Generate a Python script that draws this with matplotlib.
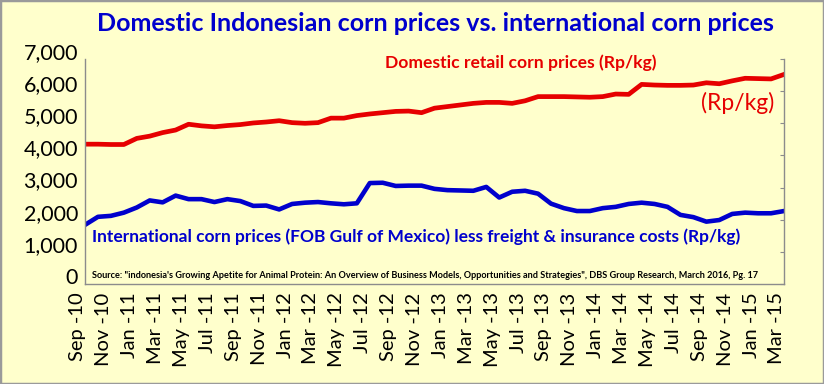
import numpy as np
import pandas as pd
import matplotlib
matplotlib.use("Agg")
import matplotlib.pyplot as plt
from matplotlib.transforms import ScaledTranslation
from matplotlib.patches import Rectangle

plt.rcParams['font.family'] = ['Lato', 'DejaVu Sans']

# monthly, Sep-10 .. Mar-15
months = pd.date_range('2010-09-01', periods=55, freq='MS')

domestic = [4350, 4350, 4340, 4340, 4530, 4600, 4710, 4790, 4970, 4920,
            4890, 4930, 4960, 5010, 5040, 5080, 5020, 5000, 5020, 5160,
            5160, 5240, 5290, 5330, 5370, 5380, 5330, 5470, 5520, 5570,
            5620, 5650, 5650, 5620, 5700, 5830, 5830, 5830, 5820, 5810,
            5830, 5910, 5900, 6210, 6190, 6180, 6180, 6190, 6260, 6230,
            6320, 6400, 6390, 6380, 6520]

international = [1840, 2090, 2120, 2220, 2380, 2600, 2540, 2750, 2640, 2640,
                 2550, 2640, 2580, 2430, 2440, 2320, 2490, 2530, 2550, 2510,
                 2480, 2510, 3140, 3150, 3050, 3060, 3060, 2960, 2920, 2910,
                 2900, 3020, 2690, 2870, 2900, 2810, 2500, 2360, 2270, 2270,
                 2360, 2400, 2490, 2530, 2490, 2400, 2150, 2080, 1940, 1990,
                 2180, 2220, 2200, 2200, 2270]

y_ticks = [0, 1000, 2000, 3000, 4000, 5000, 6000, 7000]
y_labels = ['0', '1,000', '2,000', '3,000', '4,000', '5,000', '6,000', '7,000']
x_labels = [f"{d:%b} -{d:%y}" for d in months]

title = 'Domestic Indonesian corn prices vs. international corn prices'
red_label = 'Domestic retail corn prices (Rp/kg)'
blue_label = 'International corn prices (FOB Gulf of Mexico) less freight & insurance costs (Rp/kg)'
source = ('Source: "indonesia\'s Growing Apetite for Animal Protein: An Overview of Business Models, '
          'Opportunities and Strategies", DBS Group Research, March 2016, Pg. 17')

bg = '#FFFFCC'
red = '#E60000'
blue = '#0000CC'
grey = '#8C8C8C'

fig = plt.figure(figsize=(8.24, 3.84), dpi=100, facecolor=bg)
ax = fig.add_axes([85 / 824, 1 - 284 / 384, 699 / 824, 225 / 384], facecolor=bg)

x = np.arange(len(months))
ax.plot(x, domestic, color=red, lw=3.4, solid_joinstyle='round')
ax.plot(x, international, color=blue, lw=3.3, solid_joinstyle='round')

ax.set_xlim(0, len(months) - 1)
ax.set_ylim(0, 7000)

ax.set_yticks(y_ticks)
ax.set_yticklabels(y_labels, fontsize=15.5)
ax.set_xticks(x[::2])
ax.set_xticklabels(x_labels[::2], rotation=90, fontsize=14.5)
ax.tick_params(axis='y', length=0, pad=5)
ax.tick_params(axis='x', length=0, pad=6)

# text layer sits slightly up/left of the graphics in the original
for lab in ax.get_yticklabels():
    lab.set_transform(lab.get_transform() + ScaledTranslation(0, 0.08, fig.dpi_scale_trans))
for lab in ax.get_xticklabels():
    lab.set_transform(lab.get_transform() + ScaledTranslation(-0.07, 0, fig.dpi_scale_trans))

for side in ['left', 'right', 'bottom']:
    ax.spines[side].set_color(grey)
    ax.spines[side].set_linewidth(1.0)
ax.spines['top'].set_visible(False)

# right axis ticks, no labels
ax2 = ax.twinx()
ax2.set_ylim(0, 7000)
ax2.set_yticks(y_ticks)
ax2.set_yticklabels([])
ax2.tick_params(axis='y', direction='in', length=3, color=grey)
for side in ['left', 'right', 'bottom', 'top']:
    ax2.spines[side].set_visible(False)

fig.text(0.529, 0.938, title, color=blue, fontsize=18, fontweight='bold',
         ha='center', va='center')
ax.text(0.624, 0.985, red_label, transform=ax.transAxes, color=red, fontsize=12.6,
        fontweight='bold', ha='center', va='center')
ax.text(0.933, 0.805, '(Rp/kg)', transform=ax.transAxes, color=red, fontsize=16.5,
        ha='center', va='center')
ax.text(0.010, 0.209, blue_label, transform=ax.transAxes, color=blue, fontsize=12.5,
        fontweight='bold', ha='left', va='center')
ax.text(0.010, 0.036, source, transform=ax.transAxes, color='black', fontsize=6.55,
        fontweight='bold', ha='left', va='center')

fig.patches.append(Rectangle((0, 0), 1, 1, transform=fig.transFigure, fill=False,
                             edgecolor='#9A9A9A', lw=2.5))

fig.savefig('out.png', dpi=100, facecolor=bg)
